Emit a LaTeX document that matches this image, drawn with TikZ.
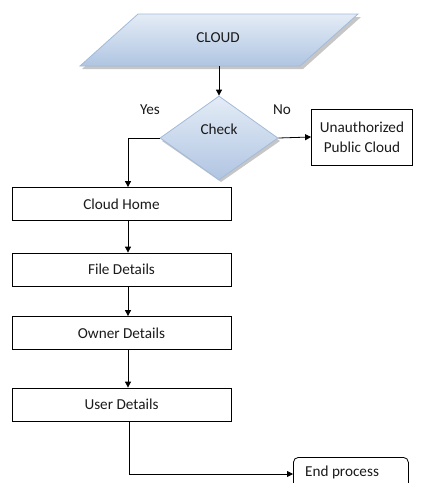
\documentclass[tikz,border=0pt]{standalone}
\usepackage{fontspec}
\setmainfont{Carlito}
\usetikzlibrary{shapes.geometric,arrows.meta}
\definecolor{topblue}{HTML}{E4ECF6}
\definecolor{botblue}{HTML}{B0C5E2}
\definecolor{edgeblue}{HTML}{A3BAD9}
\definecolor{shadowgray}{HTML}{A0A0A0}
\definecolor{txt}{HTML}{1A1A1A}
\tikzset{
  procbox/.style={draw=black, line width=0.8pt, rectangle, minimum width=219pt, minimum height=33pt, inner sep=0pt, font=\fontsize{15.2}{18}\selectfont, text=txt},
  flow/.style={draw=black, line width=0.8pt, -{Triangle[length=6pt,width=6pt]}},
  lbl/.style={font=\fontsize{15.2}{18}\selectfont, text=txt, inner sep=0pt},
}
\begin{document}
\begin{tikzpicture}[x=1pt,y=-1pt]
\useasboundingbox (0,0) rectangle (429,483);
\clip (0,0) rectangle (429,483);
% parallelogram with shadow
\fill[shadowgray!60] (82,69) -- (140,17) -- (361,17) -- (303,69) -- cycle;
\shade[top color=topblue, bottom color=botblue, draw=edgeblue, line width=0.8pt]
  (80,66) -- (138,14) -- (358,14) -- (300,66) -- cycle;
\node[rectangle, minimum width=220pt, minimum height=52pt, inner sep=0pt] (cloud) at (219,40) {};
\node[lbl] (cloudtxt) at (218,38) {CLOUD};
% diamond
\fill[shadowgray!60] (221,98) -- (280,141) -- (221,182) -- (162,141) -- cycle;
\node[diamond, minimum width=118pt, minimum height=84pt, inner sep=0pt, top color=topblue, bottom color=botblue, draw=edgeblue, line width=0.8pt] (check) at (219,138) {};
\node[lbl] (checktxt) at (219,129) {Check};
\node[lbl] (yes) at (150,110) {Yes};
\node[lbl] (no) at (282,110) {No};
% unauthorized
\node[draw=black, line width=0.8pt, rectangle, minimum width=101pt, minimum height=56pt, inner sep=0pt, align=center, font=\fontsize{15.2}{20}\selectfont, text=txt] (unauth) at (362,137) {Unauthorized\\Public Cloud};
% process boxes
\node[procbox] (home) at (121.5,204) {Cloud Home};
\node[procbox] (file) at (121.5,269.5) {File Details};
\node[procbox] (owner) at (121.5,333) {Owner Details};
\node[procbox] (user) at (121.5,404.5) {User Details};
% end process
\node[draw=black, line width=0.8pt, rectangle, rounded corners=5pt, minimum width=115pt, minimum height=40pt, inner sep=0pt, anchor=north west] (endp) at (293,457) {};
\node[lbl, anchor=west] (endtxt) at (305,472) {End process};
% connectors
\draw[flow] (cloud.south) -- (check.north);
\draw[flow] (check.east) -- (unauth.west);
\draw[flow] (check.west) -| ([xshift=6.5pt]home.north);
\draw[flow] ([xshift=6.5pt]home.south) -- ([xshift=6.5pt]file.north);
\draw[flow] ([xshift=6.5pt]file.south) -- ([xshift=6.5pt]owner.north);
\draw[flow] ([xshift=6.5pt]owner.south) -- ([xshift=6.5pt]user.north);
\draw[flow] ([xshift=7.5pt]user.south) |- (endp.west |- 0,474);
\end{tikzpicture}
\end{document}
